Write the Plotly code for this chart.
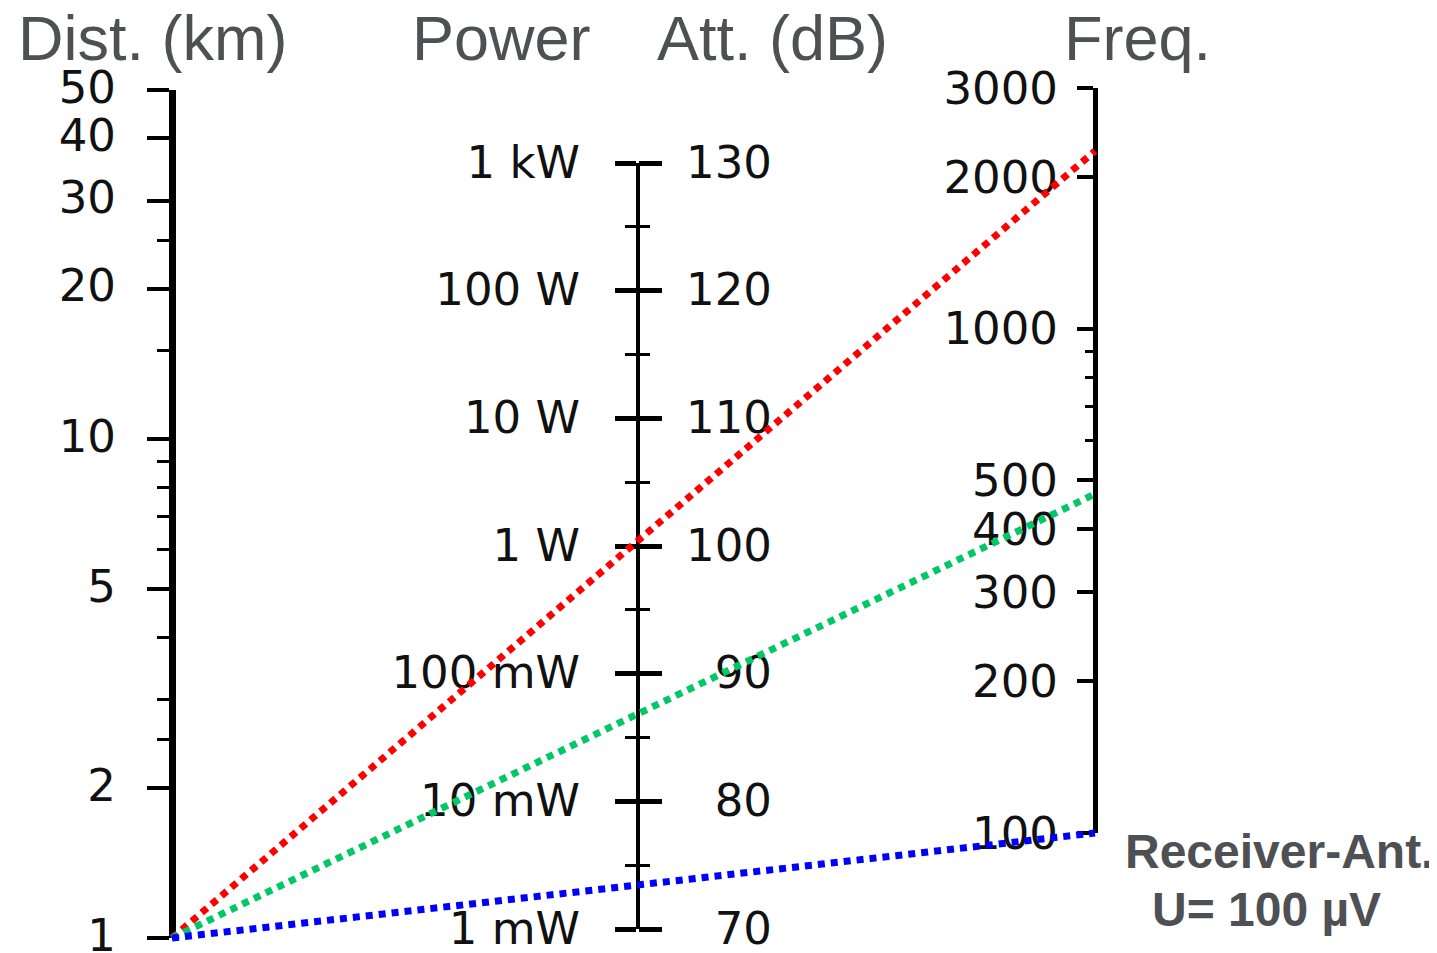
import numpy as np
import plotly.graph_objects as go

# ---------------- data ----------------
dist_ticks = [1, 2, 5, 10, 20, 30, 40, 50]          # km
dist_minor = [2.5, 3, 4, 6, 7, 8, 9, 15, 25]
att_db = [70, 80, 90, 100, 110, 120, 130]           # dB
power_labels = ["1 mW", "10 mW", "100 mW", "1 W", "10 W", "100 W", "1 kW"]
att_minor = [75, 85, 95, 105, 115, 125]
freq_ticks = [100, 200, 300, 400, 500, 1000, 2000, 3000]   # MHz
freq_minor = [600, 700, 800, 900]

line_dist = [1, 1, 1]            # km, start of each reading line
line_freq = [2250, 470, 100]     # MHz, end of each reading line
line_colors = ["#ff0000", "#00c864", "#0000ff"]

headers = ["Dist. (km)", "Power", "Att. (dB)", "Freq."]
note_lines = ["Receiver-Ant.", "U= 100 µV"]

# ---------------- layout geometry (viewport pixels) ----------------
VW, VH = 1437, 953
OFF = 8                      # page body margin
W, H = VW - OFF, VH - OFF    # figure size
LEFT_X, LEFT_TOP, LEFT_BOT = 172, 90, 938
MID_X, MID_TOP, MID_BOT = 638, 163, 929
DBLAB_X = 772
RIGHT_X, RIGHT_TOP, RIGHT_BOT = 1095, 88, 833

def pxx(x):
    return (x - OFF) / W

def pxy(y):
    return 1 - (y - OFF) / H

dist_range = [0, np.log10(50)]
att_range = [70, 130]
freq_range = [2, np.log10(3000)]

dist_dom = [pxy(LEFT_BOT), pxy(LEFT_TOP)]
mid_dom = [pxy(MID_BOT), pxy(MID_TOP)]
freq_dom = [pxy(RIGHT_BOT), pxy(RIGHT_TOP)]

def to_paper(v, rng, dom, log):
    t = ((np.log10(v) if log else v) - rng[0]) / (rng[1] - rng[0])
    return dom[0] + t * (dom[1] - dom[0])

TICKFONT = dict(family="DejaVu Sans", size=45, color="#111111")
GRAY = "#4e5054"

fig = go.Figure()

# dummy traces so that each axis forms a subplot
for ya in ["y", "y2", "y3", "y4", "y5"]:
    fig.add_trace(go.Scatter(x=[None], y=[None], xaxis="x", yaxis=ya,
                             showlegend=False, hoverinfo="skip"))

# reading lines (on a full-paper overlay axis, drawn last)
for d, f, c in zip(line_dist, line_freq, line_colors):
    xs = [pxx(LEFT_X), pxx(RIGHT_X)]
    ys = [to_paper(d, dist_range, dist_dom, True),
          to_paper(f, freq_range, freq_dom, True)]
    fig.add_trace(go.Scatter(x=xs, y=ys, xaxis="x", yaxis="y6", mode="lines",
                             line=dict(color=c, width=7, dash="7px,6px"),
                             showlegend=False, hoverinfo="skip"))

common = dict(anchor="free", showgrid=False, zeroline=False, fixedrange=True,
              color="#000000", automargin=False, ticklabeloverflow="allow")

fig.update_layout(
    width=W, height=H,
    margin=dict(l=0, r=0, t=0, b=0, pad=0, autoexpand=False),
    paper_bgcolor="white", plot_bgcolor="rgba(0,0,0,0)",
    xaxis=dict(domain=[0, 1], range=[0, 1], visible=False, fixedrange=True,
               automargin=False),
    # distance axis (log)
    yaxis=dict(common, type="log", range=dist_range, domain=dist_dom,
               position=pxx(LEFT_X), side="left",
               showline=True, linewidth=7, linecolor="#000000",
               ticks="outside", ticklen=22, tickwidth=4, tickcolor="#000000",
               tickmode="array", tickvals=dist_ticks,
               ticktext=[str(v) for v in dist_ticks],
               tickfont=TICKFONT, ticklabelstandoff=22, ticklabelshift=-3,
               minor=dict(tickmode="array", tickvals=dist_minor, ticks="outside",
                          ticklen=12, tickwidth=3, tickcolor="#000000")),
    # power labels (left side of middle axis)
    yaxis2=dict(common, type="linear", range=att_range, domain=mid_dom,
                position=pxx(MID_X), side="left",
                showline=True, linewidth=4, linecolor="#000000",
                ticks="outside", ticklen=21, tickwidth=5, tickcolor="#000000",
                tickmode="array", tickvals=att_db, ticktext=power_labels,
                tickfont=TICKFONT, ticklabelstandoff=26, ticklabelshift=-1,
                minor=dict(tickmode="array", tickvals=att_minor, ticks="outside",
                           ticklen=11, tickwidth=3, tickcolor="#000000")),
    # right-hand half of the crossing ticks of the middle axis
    yaxis3=dict(common, type="linear", range=att_range, domain=mid_dom,
                position=pxx(MID_X), side="right",
                showline=False,
                ticks="outside", ticklen=23, tickwidth=5, tickcolor="#000000",
                tickmode="array", tickvals=att_db, showticklabels=False,
                minor=dict(tickmode="array", tickvals=att_minor, ticks="outside",
                           ticklen=11, tickwidth=3, tickcolor="#000000")),
    # attenuation labels, right-aligned
    yaxis4=dict(common, type="linear", range=att_range, domain=mid_dom,
                position=pxx(DBLAB_X), side="left", showline=False, ticks="",
                tickmode="array", tickvals=att_db, ticklabelshift=-1,
                ticktext=[str(v) for v in att_db], tickfont=TICKFONT),
    # frequency axis (log)
    yaxis5=dict(common, type="log", range=freq_range, domain=freq_dom,
                position=pxx(RIGHT_X), side="left",
                showline=True, linewidth=5, linecolor="#000000",
                ticks="outside", ticklen=16, tickwidth=4, tickcolor="#000000",
                tickmode="array", tickvals=freq_ticks,
                ticktext=[str(v) for v in freq_ticks],
                tickfont=TICKFONT, ticklabelstandoff=10,
                minor=dict(tickmode="array", tickvals=freq_minor, ticks="outside",
                           ticklen=8, tickwidth=3, tickcolor="#000000")),
    # overlay for reading lines
    yaxis6=dict(anchor="free", position=0, domain=[0, 1], range=[0, 1],
                visible=False, fixedrange=True, automargin=False),
)

header_x = [152, 501, 772, 1137]
for t, hx in zip(headers, header_x):
    fig.add_annotation(x=pxx(hx), y=pxy(38), xref="paper", yref="paper",
                       text=t, showarrow=False, xanchor="center", yanchor="middle",
                       font=dict(family="Liberation Sans", size=63, color=GRAY))

for t, nx, ny in zip(note_lines, [1279, 1266], [851, 909]):
    fig.add_annotation(x=pxx(nx), y=pxy(ny), xref="paper", yref="paper",
                       text="<b>" + t + "</b>", showarrow=False,
                       xanchor="center", yanchor="middle",
                       font=dict(family="Liberation Sans", size=48, color=GRAY))

fig.write_html("out.html")
